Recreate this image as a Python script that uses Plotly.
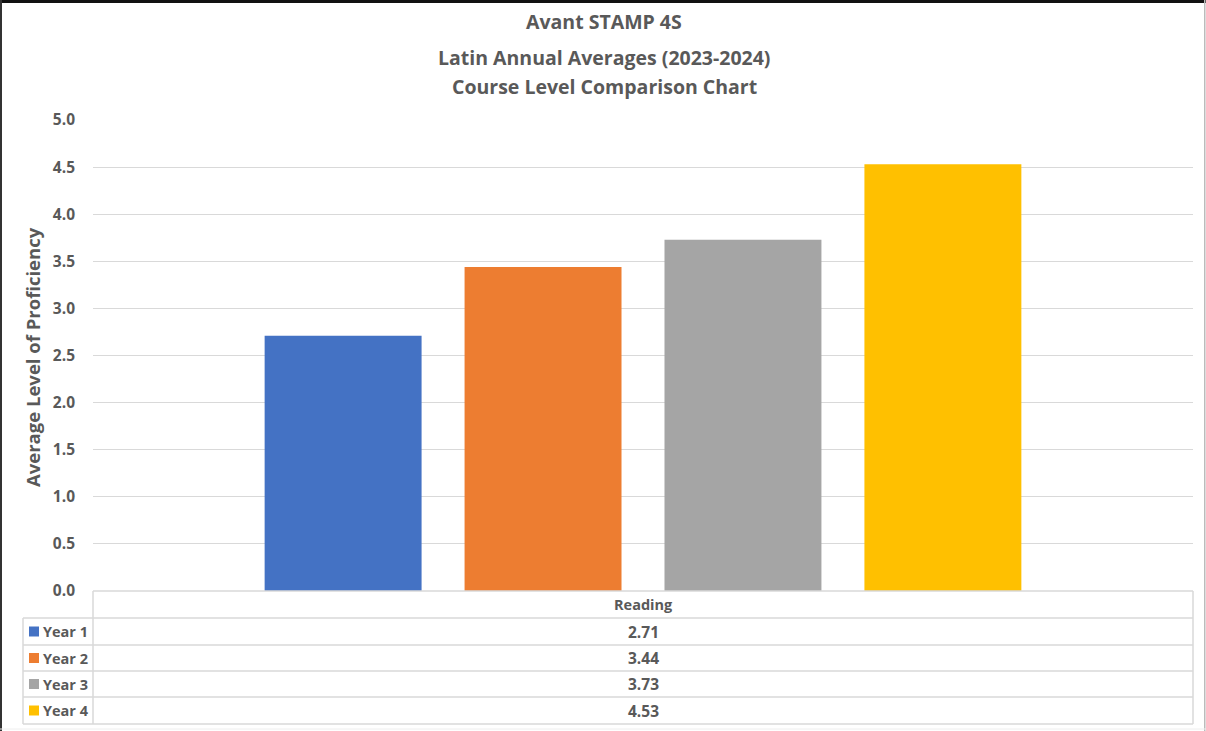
import plotly.graph_objects as go

series_names = ["Year 1", "Year 2", "Year 3", "Year 4"]
category = ["Reading"]
values = [2.71, 3.44, 3.73, 4.53]
colors = ["#4472C4", "#ED7D31", "#A5A5A5", "#FFC000"]
y_ticks = [0, 0.5, 1, 1.5, 2, 2.5, 3, 3.5, 4, 4.5, 5]
title_lines = ["Avant STAMP 4S", "Latin Annual Averages (2023-2024)", "Course Level Comparison Chart"]
y_title = "Average Level of Proficiency"

W, H = 1206, 731
L, R, T, B = 93, 13, 120, 140
PW = W - L - R
PH = H - T - B
TXT = "#595959"
GRID = "#D9D9D9"
FONT = "Open Sans"


def px(xp):
    return (xp - L) / PW


def py(yp):
    return (H - B - yp) / PH


fig = go.Figure()
for name, v, c in zip(series_names, values, colors):
    fig.add_trace(go.Bar(x=category, y=[v], name=name, marker=dict(color=c, line=dict(width=0)),
                         showlegend=False, hoverinfo="y+name"))

shapes = []
annotations = []

# title
title_y = [21, 57, 86]
for line, yy in zip(title_lines, title_y):
    annotations.append(dict(text="<b>" + line + "</b>", x=px(604), y=py(yy), xref="paper", yref="paper",
                            showarrow=False, xanchor="center", yanchor="middle",
                            font=dict(size=19.5, color=TXT, family=FONT)))

# data table
table_left = 23
table_right = L + PW
row_edges = [591, 618, 645, 671, 697, 724]
line_style = dict(color="#D9D9D9", width=1.5)
for i, ye in enumerate(row_edges):
    x0 = L if i == 0 else table_left
    shapes.append(dict(type="line", xref="paper", yref="paper", x0=px(x0), x1=px(table_right),
                       y0=py(ye), y1=py(ye), line=line_style))
shapes.append(dict(type="line", xref="paper", yref="paper", x0=px(table_left), x1=px(table_left),
                   y0=py(row_edges[1]), y1=py(row_edges[-1]), line=line_style))
shapes.append(dict(type="line", xref="paper", yref="paper", x0=px(L), x1=px(L),
                   y0=py(row_edges[0]), y1=py(row_edges[-1]), line=line_style))
shapes.append(dict(type="line", xref="paper", yref="paper", x0=px(table_right), x1=px(table_right),
                   y0=py(row_edges[0]), y1=py(row_edges[-1]), line=line_style))

mid_x = px(L + PW / 2)
annotations.append(dict(text="<b>" + category[0] + "</b>", x=mid_x, y=py((row_edges[0] + row_edges[1]) / 2),
                        xref="paper", yref="paper", showarrow=False, xanchor="center", yanchor="middle",
                        font=dict(size=14.5, color=TXT, family=FONT)))
for i, (name, v, c) in enumerate(zip(series_names, values, colors)):
    yc = (row_edges[i + 1] + row_edges[i + 2]) / 2
    annotations.append(dict(text="<b>%.2f</b>" % v, x=mid_x, y=py(yc), xref="paper", yref="paper",
                            showarrow=False, xanchor="center", yanchor="middle",
                            font=dict(size=15.5, color=TXT, family=FONT)))
    annotations.append(dict(text="<b>" + name + "</b>", x=px(41), y=py(yc), xref="paper", yref="paper",
                            showarrow=False, xanchor="left", yanchor="middle",
                            font=dict(size=14.5, color=TXT, family=FONT)))
    shapes.append(dict(type="rect", xref="paper", yref="paper", x0=px(29), x1=px(39),
                       y0=py(yc - 5), y1=py(yc + 5), fillcolor=c, line=dict(width=0)))

# outer frame
shapes.append(dict(type="rect", xref="paper", yref="paper", x0=px(0), x1=px(W), y0=py(0), y1=py(3),
                   fillcolor="#111111", line=dict(width=0)))
shapes.append(dict(type="rect", xref="paper", yref="paper", x0=px(0), x1=px(2), y0=py(0), y1=py(H),
                   fillcolor="#333333", line=dict(width=0)))
shapes.append(dict(type="rect", xref="paper", yref="paper", x0=px(1204), x1=px(1205.5), y0=py(0), y1=py(H),
                   fillcolor="#BBBBBB", line=dict(width=0)))
shapes.append(dict(type="line", xref="paper", yref="paper", x0=px(0), x1=px(W), y0=py(729), y1=py(729),
                   line=dict(color="#EEEEEE", width=1)))

# y-axis title
annotations.append(dict(text="<b>" + y_title + "</b>", x=px(32), y=py(357), xref="paper", yref="paper",
                        showarrow=False, textangle=-90, xanchor="center", yanchor="middle",
                        font=dict(size=18.5, color=TXT, family=FONT)))

fig.update_layout(
    width=W, height=H,
    margin=dict(l=L, r=R, t=T, b=B),
    paper_bgcolor="white", plot_bgcolor="white",
    barmode="group", bargap=0.273, bargroupgap=0.215,
    xaxis=dict(showticklabels=False, showgrid=False, zeroline=False, showline=False, fixedrange=True),
    yaxis=dict(range=[0, 5], tickvals=y_ticks, ticktext=["<b>%.1f</b>" % t for t in y_ticks],
               showgrid=True, gridcolor=GRID, gridwidth=1, zeroline=False, showline=False,
               tickfont=dict(size=15.5, color=TXT, family=FONT), ticks="", ticklabelstandoff=17),
    shapes=shapes, annotations=annotations,
    font=dict(family=FONT, color=TXT),
)

fig.write_html("out.html", config={"displayModeBar": False},
               post_script="document.body.style.margin='0px';document.body.style.overflow='hidden';")
